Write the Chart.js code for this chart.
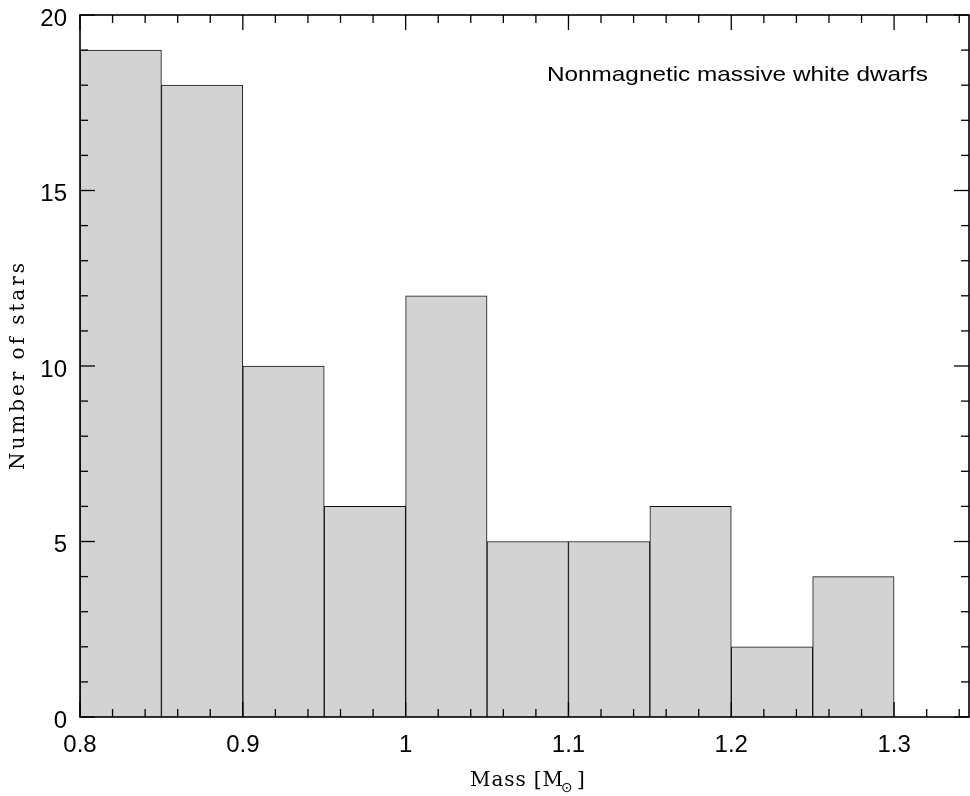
<!DOCTYPE html>
<html><head><meta charset="utf-8">
<script src="https://cdn.jsdelivr.net/npm/chart.js@4.4.1/dist/chart.umd.min.js"></script>
<style>html,body{margin:0;padding:0;background:#fff}#wrap{width:970px;height:796px;position:relative}</style>
</head><body><div id="wrap"><canvas id="c"></canvas></div>
<script>
// ---- data ----
const binStarts = [0.80, 0.85, 0.90, 0.95, 1.00, 1.05, 1.10, 1.15, 1.20, 1.25];
const binWidth = 0.05;
const counts = [19, 18, 10, 6, 12, 5, 5, 6, 2, 4];
const xTickValues = [0.8, 0.9, 1.0, 1.1, 1.2, 1.3];
const xTickLabels = ['0.8', '0.9', '1', '1.1', '1.2', '1.3'];
const yTickValues = [0, 5, 10, 15, 20];
const yTickLabels = ['0', '5', '10', '15', '20'];
const xRange = [0.8, 1.346];
const yRange = [0, 20];
const xMinorStep = 0.02;
const yMinorStep = 1;
const annotationText = 'Nonmagnetic massive white dwarfs';
const xTitleParts = ['Mass [M', '\u2299', ']'];
const yTitle = 'Number of stars';

const points = binStarts.map((s, i) => ({ x: s + binWidth / 2, y: counts[i] }));

function spacedText(ctx, text, x, y, target) {
  const chars = [...text];
  const w = chars.reduce((a, c) => a + ctx.measureText(c).width, 0);
  const gap = chars.length > 1 ? (target - w) / (chars.length - 1) : 0;
  let cx = x;
  for (const c of chars) { ctx.fillText(c, cx, y); cx += ctx.measureText(c).width + gap; }
  return cx - gap;
}

const decor = {
  id: 'decor',
  afterDatasetsDraw(chart) {
    const { ctx, chartArea: a, scales: { x, y } } = chart;
    ctx.save();
    ctx.strokeStyle = '#000';
    ctx.lineWidth = 1.3;
    const line = (x1, y1, x2, y2) => { ctx.beginPath(); ctx.moveTo(x1, y1); ctx.lineTo(x2, y2); ctx.stroke(); };
    const kx0 = Math.ceil(xRange[0] / xMinorStep - 1e-6), kx1 = Math.floor(xRange[1] / xMinorStep + 1e-6);
    for (let k = kx0; k <= kx1; k++) {
      const px = x.getPixelForValue(k * xMinorStep);
      const L = (k % 5 === 0) ? 15 : 8;
      line(px, a.bottom, px, a.bottom - L);
      line(px, a.top, px, a.top + L);
    }
    for (let k = yRange[0]; k <= yRange[1]; k += yMinorStep) {
      const py = y.getPixelForValue(k);
      const L = (k % 5 === 0) ? 15 : 8;
      line(a.left, py, a.left + L, py);
      line(a.right, py, a.right - L, py);
    }
    ctx.lineWidth = 1.6;
    ctx.strokeRect(a.left, a.top, a.right - a.left, a.bottom - a.top);

    // annotation
    ctx.fillStyle = '#000';
    ctx.font = '21px "Liberation Sans", Arial, sans-serif';
    ctx.textBaseline = 'alphabetic';
    ctx.textAlign = 'left';
    const aw = ctx.measureText(annotationText).width;
    const sx = 381 / aw;
    ctx.save();
    ctx.translate(547, 81);
    ctx.scale(sx, 1);
    ctx.fillText(annotationText, 0, 0);
    ctx.restore();

    // y title
    ctx.font = '20px "DejaVu Serif", serif';
    ctx.save();
    ctx.translate(24, 470);
    ctx.rotate(-Math.PI / 2);
    spacedText(ctx, yTitle, 0, 0, 207);
    ctx.restore();

    // x title
    ctx.font = '20px "DejaVu Serif", serif';
    spacedText(ctx, xTitleParts[0], 470, 786, 93);
    ctx.font = '14px "DejaVu Sans", sans-serif';
    ctx.fillText(xTitleParts[1], 561, 792);
    ctx.font = '20px "DejaVu Serif", serif';
    ctx.fillText(xTitleParts[2], 577, 786);
    ctx.restore();
  }
};

new Chart(document.getElementById('c'), {
  type: 'bar',
  data: {
    datasets: [{
      data: points,
      backgroundColor: '#d3d3d3',
      borderColor: '#111',
      borderWidth: 1,
      barPercentage: 1,
      categoryPercentage: 1,
      grouped: false
    }]
  },
  options: {
    responsive: true,
    maintainAspectRatio: false,
    animation: false,
    layout: { padding: { top: 15, right: 1, left: 0, bottom: 0 } },
    plugins: { legend: { display: false }, tooltip: { enabled: false } },
    scales: {
      x: {
        type: 'linear',
        min: xRange[0], max: xRange[1],
        offset: false,
        border: { display: false },
        grid: { display: false, drawTicks: false },
        afterBuildTicks: s => { s.ticks = xTickValues.map(v => ({ value: v })); },
        afterFit: s => { s.height = 79; s.paddingLeft = 0; s.paddingRight = 0; },
        ticks: {
          color: '#000',
          padding: 14,
          maxRotation: 0,
          autoSkip: false,
          font: { family: '"Liberation Sans", Arial, sans-serif', size: 24 },
          callback: (v) => { const i = xTickValues.findIndex(t => Math.abs(t - v) < 1e-6); return i >= 0 ? xTickLabels[i] : ''; }
        }
      },
      y: {
        min: yRange[0], max: yRange[1],
        border: { display: false },
        grid: { display: false, drawTicks: false },
        afterBuildTicks: s => { s.ticks = yTickValues.map(v => ({ value: v })); },
        afterFit: s => { s.width = 80; s.paddingTop = 0; s.paddingBottom = 0; },
        ticks: {
          color: '#000',
          padding: 13,
          labelOffset: 4,
          autoSkip: false,
          font: { family: '"Liberation Sans", Arial, sans-serif', size: 24 },
          callback: (v) => { const i = yTickValues.indexOf(v); return i >= 0 ? yTickLabels[i] : ''; }
        }
      }
    }
  },
  plugins: [decor]
});
</script>
</body></html>
